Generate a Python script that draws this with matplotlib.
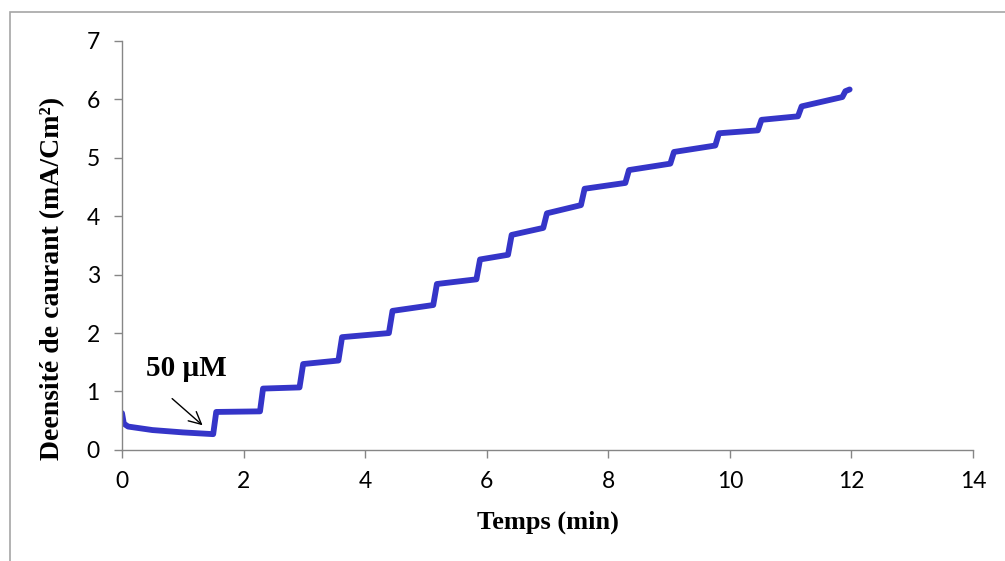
import matplotlib.pyplot as plt
from matplotlib.patches import Rectangle

# Time (min) and current density (mA/cm2), corners of the staircase
temps = [0.00, 0.03, 0.10, 0.50, 1.00, 1.50,
         1.55, 2.27, 2.32, 2.92, 2.98, 3.56, 3.62, 4.39,
         4.45, 5.12, 5.18, 5.83, 5.89, 6.35, 6.41, 6.93,
         6.99, 7.55, 7.61, 8.28, 8.34, 9.02, 9.08, 9.76,
         9.82, 10.46, 10.52, 11.12, 11.18, 11.85, 11.90, 11.97]
densite = [0.63, 0.45, 0.40, 0.34, 0.30, 0.27,
           0.65, 0.66, 1.05, 1.07, 1.47, 1.53, 1.93, 2.00,
           2.38, 2.48, 2.84, 2.92, 3.26, 3.34, 3.68, 3.80,
           4.05, 4.19, 4.47, 4.57, 4.79, 4.90, 5.10, 5.21,
           5.42, 5.47, 5.65, 5.71, 5.88, 6.04, 6.14, 6.17]

x_ticks = [0, 2, 4, 6, 8, 10, 12, 14]
y_ticks = [0, 1, 2, 3, 4, 5, 6, 7]

fig = plt.figure(figsize=(10.05, 5.61), dpi=100)
ax = fig.add_axes([0.1214, 0.198, 0.8468, 0.729])

# chart area border (open on right and bottom, like the source image)
fig.add_artist(Rectangle((9.5 / 1005, -0.1), 1.2, 1 - 12 / 561 + 0.1,
                         transform=fig.transFigure, fill=False,
                         edgecolor="#a6a6a6", linewidth=1.2))

ax.plot(temps, densite, color="#3535c8", linewidth=4.2,
        solid_joinstyle="round", solid_capstyle="round")

ax.set_xlim(0, 14)
ax.set_ylim(0, 7)
ax.set_xticks(x_ticks)
ax.set_yticks(y_ticks)

tick_font = {"family": "Lato", "size": 16.5}
ax.set_xticklabels([str(v) for v in x_ticks], fontdict=tick_font)
ax.set_yticklabels([str(v) for v in y_ticks], fontdict=tick_font)

for side in ["top", "right"]:
    ax.spines[side].set_visible(False)
for side in ["left", "bottom"]:
    ax.spines[side].set_color("#868686")
    ax.spines[side].set_linewidth(1.0)
ax.tick_params(axis="both", direction="out", length=6, width=1.0, color="#868686")
ax.tick_params(axis="x", pad=9)
ax.tick_params(axis="y", pad=10)

ax.set_xlabel("Temps (min)", family="Liberation Serif", fontweight="bold",
              fontsize=19, va="center")
ax.set_ylabel("Deensité de caurant (mA/Cm²)", family="Liberation Serif",
              fontweight="bold", fontsize=20, va="center")
ax.xaxis.set_label_coords(0.5, -0.178)
ax.yaxis.set_label_coords(-0.082, 0.42)

ax.annotate("50 µM", xy=(1.36, 0.39), xytext=(0.40, 1.40),
            family="Liberation Serif", fontweight="bold", fontsize=21,
            va="center", ha="left")
ax.annotate("", xy=(1.36, 0.39), xytext=(0.79, 0.91),
            arrowprops=dict(arrowstyle="->", color="black", lw=1.0,
                            mutation_scale=22))

fig.savefig("out.png", dpi=100)
